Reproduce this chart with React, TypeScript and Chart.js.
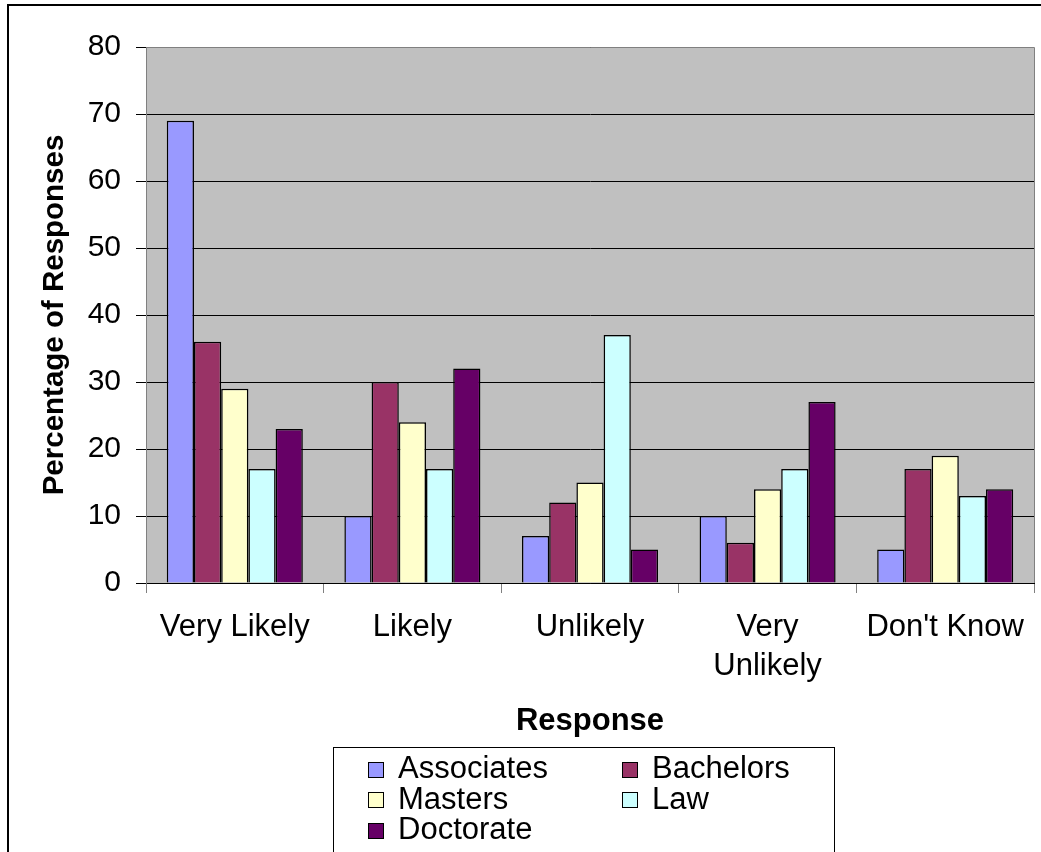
import React, { useEffect, useRef } from 'react';
import { Chart, registerables } from 'chart.js';

Chart.register(...registerables);

const categories: (string | string[])[] = ['Very Likely', 'Likely', 'Unlikely', ['Very', 'Unlikely'], "Don't Know"];
const seriesNames = ['Associates', 'Bachelors', 'Masters', 'Law', 'Doctorate'];
const associates = [69, 10, 7, 10, 5];
const bachelors = [36, 30, 12, 6, 17];
const masters = [29, 24, 15, 14, 19];
const law = [17, 17, 37, 17, 13];
const doctorate = [23, 32, 5, 27, 14];
const seriesValues = [associates, bachelors, masters, law, doctorate];
const seriesColors = ['#9999FF', '#993366', '#FFFFCC', '#CCFFFF', '#660066'];
const yMin = 0;
const yMax = 80;
const yStep = 10;
const xTitle = 'Response';
const yTitle = 'Percentage of Responses';

const FONT = '"Liberation Sans", Arial, sans-serif';

const framePlugin = {
  id: 'framePlugin',
  beforeDraw(chart: any) {
    const { ctx, chartArea } = chart;
    ctx.save();
    ctx.fillStyle = '#FFFFFF';
    ctx.fillRect(0, 0, chart.width, chart.height);
    ctx.fillStyle = '#C0C0C0';
    ctx.fillRect(chartArea.left, chartArea.top, chartArea.right - chartArea.left, chartArea.bottom - chartArea.top);
    ctx.restore();
  },
  afterDraw(chart: any) {
    const { ctx, chartArea } = chart;
    ctx.save();
    // plot border top and right
    ctx.strokeStyle = '#808080';
    ctx.lineWidth = 1;
    ctx.beginPath();
    ctx.moveTo(chartArea.left, Math.round(chartArea.top) + 0.5);
    ctx.lineTo(chartArea.right + 0.5, Math.round(chartArea.top) + 0.5);
    ctx.lineTo(chartArea.right + 0.5, chartArea.bottom);
    ctx.stroke();

    // outer frame
    ctx.fillStyle = '#000000';
    ctx.fillRect(7, 4, chart.width - 7, 2);
    ctx.fillRect(7, 4, 2, chart.height - 4);

    // legend box
    ctx.strokeStyle = '#000000';
    ctx.lineWidth = 1;
    ctx.strokeRect(333.5, 747.5, 501, 200);

    const cols = [368, 622];
    const rows = [769.5, 800, 830.5];
    ctx.font = '31px ' + FONT;
    ctx.textBaseline = 'middle';
    ctx.textAlign = 'left';
    chart.data.datasets.forEach((ds: any, i: number) => {
      const cx = cols[i % 2];
      const cy = rows[Math.floor(i / 2)];
      const sq = 16;
      const top = Math.round(cy - 8);
      ctx.fillStyle = ds.backgroundColor;
      ctx.fillRect(cx, top, sq, sq);
      ctx.strokeStyle = '#000000';
      ctx.strokeRect(cx + 0.5, top + 0.5, sq - 1, sq - 1);
      ctx.fillStyle = '#000000';
      ctx.fillText(ds.label, cx + 30, cy);
    });
    ctx.restore();
  },
};

export default function App() {
  const canvasRef = useRef<HTMLCanvasElement | null>(null);

  useEffect(() => {
    document.body.style.margin = '0';
    const canvas = canvasRef.current;
    if (!canvas) return;
    const chart = new Chart(canvas, {
      type: 'bar',
      data: {
        labels: categories as any,
        datasets: seriesNames.map((name, i) => ({
          label: name,
          data: seriesValues[i],
          backgroundColor: seriesColors[i],
          borderColor: '#000000',
          borderWidth: 1.5,
          categoryPercentage: 0.766,
          barPercentage: 1,
        })),
      },
      options: {
        animation: false,
        responsive: false,
        devicePixelRatio: 1,
        layout: { padding: { left: 37, top: 47, right: 7, bottom: 112 } },
        plugins: {
          legend: { display: false },
          tooltip: { enabled: false },
          title: { display: false },
        },
        scales: {
          x: {
            offset: true,
            grid: {
              offset: true,
              drawOnChartArea: false,
              drawTicks: true,
              tickLength: 10,
              color: '#808080',
            },
            border: { display: true, color: '#000000' },
            ticks: {
              color: '#000000',
              font: { family: FONT, size: 31, lineHeight: 1.26 },
              padding: 15,
              maxRotation: 0,
              autoSkip: false,
            },
            title: {
              display: true,
              text: xTitle,
              color: '#000000',
              font: { family: FONT, size: 31, weight: 'bold', lineHeight: 1.2 },
              padding: 0,
            },
            afterFit(scale: any) {
              scale.height = 157;
            },
          },
          y: {
            min: yMin,
            max: yMax,
            ticks: {
              stepSize: yStep,
              color: '#000000',
              font: { family: FONT, size: 30 },
              padding: 15,
            },
            grid: {
              color: '#000000',
              tickLength: 10,
              drawTicks: true,
            },
            border: { display: true, color: '#808080' },
            title: {
              display: true,
              text: yTitle,
              color: '#000000',
              font: { family: FONT, size: 29.5, weight: 'bold', lineHeight: 1.2 },
              padding: 0,
            },
            afterFit(scale: any) {
              scale.width = 109;
            },
          },
        },
      } as any,
      plugins: [framePlugin],
    });
    return () => chart.destroy();
  }, []);

  return (
    <div style={{ position: 'absolute', left: 0, top: 0, width: 1041, height: 852 }}>
      <canvas ref={canvasRef} width={1041} height={852} style={{ display: 'block', width: 1041, height: 852 }} />
    </div>
  );
}
